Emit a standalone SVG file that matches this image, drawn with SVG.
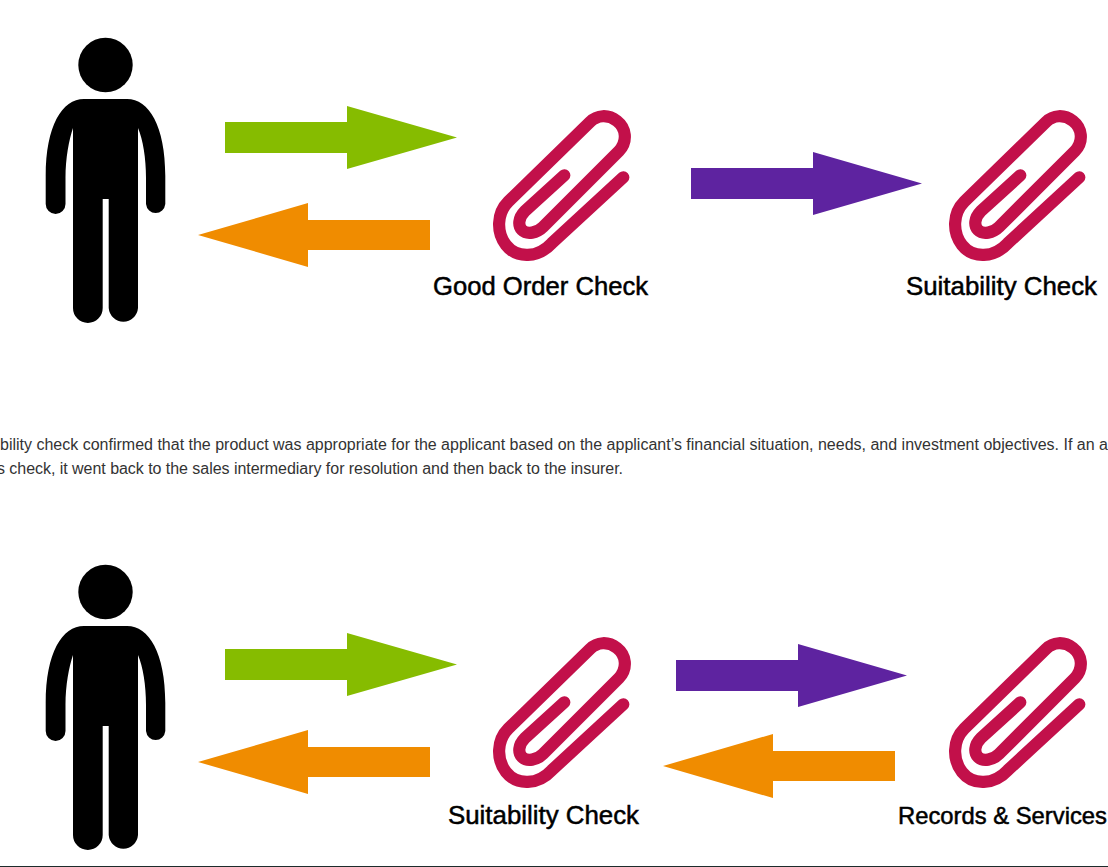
<svg xmlns="http://www.w3.org/2000/svg" width="1108" height="867" viewBox="0 0 1108 867">
<style>
.green{fill:#86bc00}.orange{fill:#f08c00}.purple{fill:#5e23a0}
.wire{fill:none;stroke:#c2104a;stroke-width:12.200;stroke-linecap:round;stroke-linejoin:round}
.label{font-family:"Liberation Sans",Arial,sans-serif;font-size:25.500px;fill:#000;stroke:#000;stroke-width:.5}
.body{font-family:"Liberation Sans",Arial,sans-serif;font-size:16px;fill:#333}
</style>
<defs>
<g id="person">
<circle cx="105.500" cy="65" r="27.200"/>
<path d="M84 99H127C149 99 165.300 126 165.300 176V204A9.700 10 0 0 1 146 204V178C146 158 143 140 138 128V308A14.700 15 0 0 1 108.700 308V199H102.700V308A14.850 15 0 0 1 73 308V128C69 140 65.500 158 65.500 178V204A9.900 10 0 0 1 45.700 204V176C45.700 126 62 99 84 99Z"/>
</g>
<path id="clip" class="wire" d="M564.300 175.300L525 211C518 218 518 226 522 230C527 235 537 233 543 227L619 151C628 141 626 128 617 121C608 114 597 115 590 122L508.300 201.700C497 213 496 232 506 245C517 259 538 258 551.700 243.300L623.300 177.300"/>
<path id="right-green" class="green" d="M225 122H347V106L457 137.500L347 169V153H225Z"/>
<path id="left-orange" class="orange" d="M430 220H308V203L198 235L308 267V250H430Z"/>
<path id="right-purple" class="purple" d="M691 168H813V152L922 183.500L813 215V199H691Z"/>
</defs>
<rect width="1108" height="867" fill="#fff"/>
<g id="connectors">
<use href="#right-green"/>
<use href="#left-orange"/>
<use href="#right-purple"/>
<use href="#right-green" y="527"/>
<use href="#left-orange" y="527"/>
<use href="#right-purple" x="-15" y="492"/>
<use href="#left-orange" x="465" y="531"/>
</g>
<g id="person-1"><use href="#person"/></g>
<g id="good-order-check"><use href="#clip"/><text class="label" x="433" y="295" textLength="215" lengthAdjust="spacingAndGlyphs">Good Order Check</text></g>
<g id="suitability-check-1"><use href="#clip" x="456"/><text class="label" x="906" y="295" textLength="191" lengthAdjust="spacingAndGlyphs">Suitability Check</text></g>
<g id="paragraph">
<text class="body" x="0" y="450">bility check confirmed that the product was appropriate for the applicant based on the applicant’s financial situation, needs, and investment objectives. If an a</text>
<text class="body" x="-3" y="474" textLength="626" lengthAdjust="spacing">s check, it went back to the sales intermediary for resolution and then back to the insurer.</text>
</g>
<g id="person-2"><use href="#person" y="527"/></g>
<g id="suitability-check-2"><use href="#clip" y="527"/><text class="label" x="448" y="824" textLength="191" lengthAdjust="spacingAndGlyphs">Suitability Check</text></g>
<g id="records-services"><use href="#clip" x="456" y="527"/><text class="label" x="898" y="824" style="font-size:23.800px">Records &amp; Services</text></g>
<rect id="bottom-rule" x="0" y="866" width="1108" height="1" fill="#1d2b2b"/>
</svg>
